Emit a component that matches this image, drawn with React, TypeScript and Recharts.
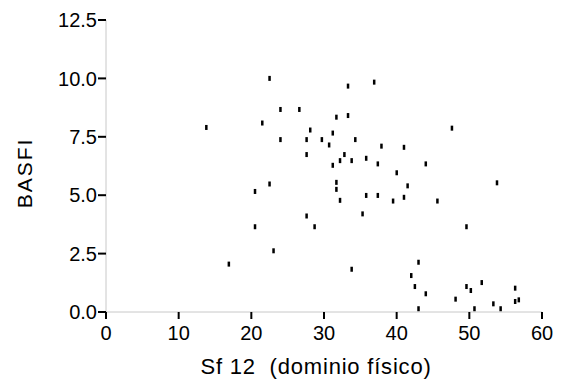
import React from "react";
import { ScatterChart, Scatter, XAxis, YAxis, Label } from "recharts";

const sf12 = [
  13.8, 16.9, 20.5, 20.5, 21.5, 22.5, 22.5, 23.05, 24.0, 24.0,
  26.6, 27.6, 27.6, 27.6, 28.1, 28.7, 29.7, 30.7, 31.2, 31.2,
  31.7, 31.7, 31.7, 32.2, 32.2, 32.8, 33.3, 33.3, 33.8, 33.8,
  34.3, 35.3, 35.8, 35.8, 36.9, 37.4, 37.4, 37.9, 39.5, 40.0,
  41.0, 41.0, 41.5, 42.0, 42.5, 43.0, 43.0, 44.0, 44.0, 45.6,
  47.6, 48.1, 49.6, 49.6, 50.2, 50.7, 51.7, 53.3, 53.8, 54.3,
  56.3, 56.3, 56.8,
];
const basfi = [
  7.9, 2.05, 3.65, 5.16, 8.09, 10.0, 5.48, 2.62, 8.67, 7.38,
  8.67, 6.74, 7.38, 4.11, 7.79, 3.65, 7.38, 7.15, 7.66, 6.28,
  8.34, 5.25, 5.55, 4.78, 6.48, 6.74, 9.67, 8.41, 6.48, 1.83,
  7.38, 4.2, 6.58, 4.99, 9.84, 6.34, 4.99, 7.1, 4.75, 5.96,
  7.05, 4.91, 5.4, 1.56, 1.09, 2.13, 0.14, 0.78, 6.34, 4.75,
  7.87, 0.55, 3.65, 1.09, 0.92, 0.14, 1.26, 0.35, 5.53, 0.14,
  1.02, 0.45, 0.52,
];
const xTicks = [0, 10, 20, 30, 40, 50, 60];
const yTicks = [0, 2.5, 5, 7.5, 10, 12.5];

const data = sf12.map((x, i) => ({ x, y: basfi[i] }));

const FONT = "'Liberation Sans', Arial, sans-serif";

const Marker = (props: any) => {
  const { cx, cy } = props;
  if (cx == null || cy == null) return null;
  return <rect x={cx - 1.2} y={cy - 2.5} width={2.5} height={5} fill="#000" />;
};

const YLabel = (props: any) => {
  const vb = props.viewBox || {};
  const cx = 24;
  const cy = vb.y + vb.height / 2 + 7;
  return (
    <text
      x={cx}
      y={cy}
      transform={`rotate(-90, ${cx}, ${cy})`}
      textAnchor="middle"
      fontFamily={FONT}
      fontSize={21}
      letterSpacing={2}
      fill="#000"
    >
      BASFI
    </text>
  );
};

const XLabel = (props: any) => {
  const vb = props.viewBox || {};
  const cx = vb.x + vb.width / 2 - 8;
  return (
    <text
      x={cx}
      y={366}
      textAnchor="middle"
      fontFamily={FONT}
      fontSize={22}
      letterSpacing={0.8}
      fill="#000"
    >
      {"Sf 12\u00A0 (dominio físico)"}
    </text>
  );
};

export default function App() {
  return (
    <ScatterChart
      width={565}
      height={380}
      margin={{ top: 12, right: 31, bottom: 0, left: 0 }}
      style={{ background: "#fff" }}
    >
      <XAxis
        type="number"
        dataKey="x"
        domain={[0, 60]}
        ticks={xTicks}
        interval={0}
        height={76}
        tickSize={7}
        tickMargin={7}
        axisLine={{ stroke: "#c8c8c8", strokeWidth: 1 }}
        tickLine={{ stroke: "#000", strokeWidth: 2 }}
        tick={{ fill: "#000", fontSize: 20, fontFamily: FONT }}
      >
        <Label content={<XLabel />} />
      </XAxis>
      <YAxis
        type="number"
        dataKey="y"
        domain={[0, 12.5]}
        ticks={yTicks}
        interval={0}
        width={98}
        tickSize={8}
        tickMargin={1}
        tickFormatter={(v: number) => v.toFixed(1)}
        axisLine={{ stroke: "#c8c8c8", strokeWidth: 1 }}
        tickLine={{ stroke: "#000", strokeWidth: 2 }}
        tick={{ fill: "#000", fontSize: 20, fontFamily: FONT }}
      >
        <Label content={<YLabel />} />
      </YAxis>
      <Scatter data={data} shape={<Marker />} isAnimationActive={false} />
    </ScatterChart>
  );
}
